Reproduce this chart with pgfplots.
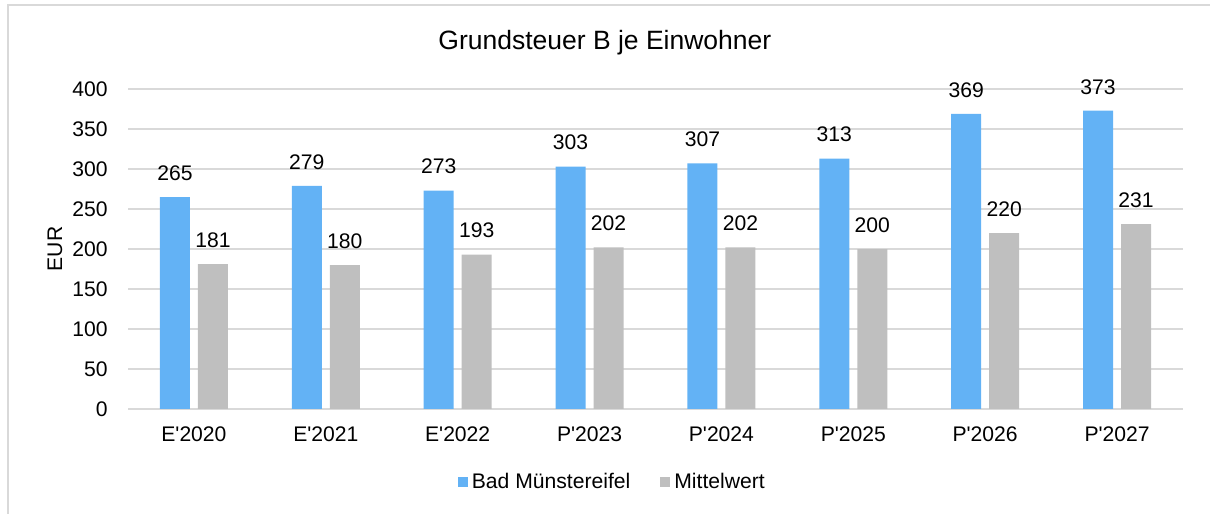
\documentclass[border=0pt]{standalone}
\usepackage{pgfplots}
\pgfplotsset{compat=1.18}
\usepackage{fontspec}
\setmainfont{Liberation Sans}

\definecolor{barblue}{RGB}{99,178,245}
\definecolor{bargray}{RGB}{191,191,191}
\definecolor{gridgray}{RGB}{217,217,217}

\begin{document}
\begin{tikzpicture}
  \useasboundingbox (0,0) rectangle (605bp,257bp);
  \draw[gridgray, line width=1.2bp] (4bp,0) -- (4bp,254.5bp) -- (605bp,254.5bp);
  \begin{axis}[
      at={(64bp,52.5bp)}, anchor=south west,
      scale only axis,
      width=527.5bp, height=160bp,
      ybar=4bp, bar width=15bp,
      xmin=-0.5, xmax=7.5,
      ymin=0, ymax=400,
      xtick=data,
      xticklabels={E\textquotesingle 2020,E\textquotesingle 2021,E\textquotesingle 2022,P\textquotesingle 2023,P\textquotesingle 2024,P\textquotesingle 2025,P\textquotesingle 2026,P\textquotesingle 2027},
      ytick={0,50,...,400},
      major tick length=0pt,
      axis x line*=bottom,
      axis y line*=left,
      x axis line style={gridgray, line width=1bp, -},
      y axis line style={draw=none},
      ymajorgrids,
      grid style={gridgray, line width=0.8bp},
      font=\fontsize{10.6}{12.5}\selectfont,
      /pgf/number format/assume math mode=true,
      xticklabel style={anchor=center, inner sep=0pt, yshift=-12.5bp},
      yticklabel style={anchor=east, inner sep=0pt, xshift=-10bp},
      title={\fontsize{13.3}{16}\selectfont Grundsteuer B je Einwohner},
      title style={at={(0.452,1)}, anchor=center, yshift=17bp},
      ylabel={EUR},
      ylabel style={at={(0,0.5)}, anchor=center, yshift=36.5bp},
      nodes near coords,
      nodes near coords style={font=\fontsize{10.6}{12.5}\selectfont, inner sep=0pt, anchor=south, yshift=8bp},
      legend style={at={(0.46,0)}, anchor=center, yshift=-36.5bp, draw=none,
        legend columns=2, font=\fontsize{10.6}{12.5}\selectfont,
        /tikz/every even column/.style={column sep=13bp}},
      legend image code/.code={\fill[#1] (0bp,-2.5bp) rectangle (5bp,2.5bp);},
      legend cell align=left,
    ]
    \addplot[fill=barblue, draw=none] coordinates {
      (0,265) (1,279) (2,273) (3,303) (4,307) (5,313) (6,369) (7,373)
    };
    \addplot[fill=bargray, draw=none] coordinates {
      (0,181) (1,180) (2,193) (3,202) (4,202) (5,200) (6,220) (7,231)
    };
    \legend{Bad Münstereifel, Mittelwert}
  \end{axis}
\end{tikzpicture}
\end{document}
